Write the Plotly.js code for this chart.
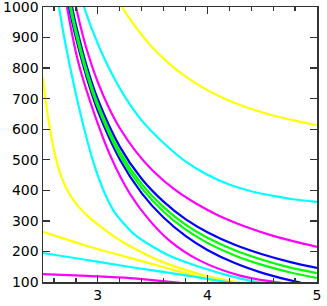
<!DOCTYPE html>
<html>
<head>
<meta charset="utf-8">
<script src="https://cdn.plot.ly/plotly-3.0.1.min.js"></script>
<style>html,body{margin:0;padding:0;background:#fff;}#chart{width:327px;height:306px;}</style>
</head>
<body>
<div id="chart"></div>
<script>
// Curves (x, y pairs)
var yellowR_x = [3.221, 3.3, 3.4, 3.5, 3.6, 3.7, 3.8, 3.9, 4.0, 4.2, 4.4, 4.6, 4.8, 5.0];
var yellowR_y = [1000, 957, 909, 867, 831, 800, 773, 749, 728, 693, 666, 645, 628, 613];

var cyanR_x = [2.874, 2.95, 3.05, 3.15, 3.266, 3.4, 3.6, 3.8, 4.0, 4.2, 4.4, 4.6, 4.8, 5.0];
var cyanR_y = [1000, 924, 839, 767, 696, 629, 555, 495, 451, 419, 397, 382, 370, 362];

var magentaR_x = [2.801, 2.85, 2.9, 3.0, 3.1, 3.2, 3.35, 3.5, 3.7, 3.9, 4.1, 4.35, 4.6, 4.8, 5.0];
var magentaR_y = [1000, 926, 860, 754, 671, 604, 526, 465, 403, 356, 318, 281, 251, 232, 215];

var blueR_x = [2.765, 2.8, 2.9, 3.0, 3.2, 3.4, 3.6, 3.8, 4.0, 4.25, 4.5, 4.75, 5.0];
var blueR_y = [1000, 942, 805, 698, 543, 438, 363, 306, 263, 222, 191, 166, 146];

var greenR_x = [2.755, 2.8, 2.9, 3.0, 3.2, 3.4, 3.6, 3.8, 4.0, 4.25, 4.5, 4.75, 5.0];
var greenR_y = [1000, 926, 790, 683, 527, 421, 345, 288, 245, 204, 173, 148, 129];

var greenL_x = [2.746, 2.8, 2.9, 3.0, 3.2, 3.4, 3.6, 3.8, 4.0, 4.25, 4.5, 4.75, 5.0];
var greenL_y = [1000, 913, 779, 673, 515, 407, 330, 272, 228, 187, 156, 132, 113];

var blueL_x = [2.737, 2.8, 2.9, 3.0, 3.2, 3.4, 3.6, 3.8, 4.0, 4.25, 4.5, 4.75, 4.85];
var blueL_y = [1000, 900, 768, 660, 502, 391, 311, 251, 205, 162, 130, 106, 98];

var magentaL_x = [2.719, 2.819, 2.929, 3.111, 3.294, 3.476, 3.659, 3.932, 4.297, 4.617, 4.7];
var magentaL_y = [1000, 823, 692, 516, 388, 300, 234, 170, 121, 100, 96];

var cyanL_x = [2.646, 2.701, 2.792, 2.883, 2.974, 3.066, 3.157, 3.248, 3.339, 3.476, 3.659, 3.932, 4.206, 4.453, 4.6];
var cyanL_y = [1000, 886, 728, 591, 476, 388, 326, 287, 254, 221, 185, 149, 120, 100, 94];

var yellowL_x = [2.5, 2.518, 2.536, 2.573, 2.609, 2.655, 2.701, 2.746, 2.838, 2.929, 3.020, 3.157, 3.294, 3.595, 3.932, 4.325];
var yellowL_y = [768, 712, 663, 581, 517, 457, 416, 385, 341, 309, 283, 247, 217, 165, 125, 96];

var yellowS_x = [2.5, 2.901, 3.294, 3.595, 3.887, 4.115];
var yellowS_y = [264, 218, 179, 149, 120, 97];

var cyanS_x = [2.5, 2.901, 3.294, 3.595, 3.905, 4.224];
var cyanS_y = [195, 172, 149, 133, 116, 97];

var magentaS_x = [2.5, 2.901, 3.294, 3.476, 3.75];
var magentaS_y = [126, 120, 113, 107, 97];

var yTicks = [100, 200, 300, 400, 500, 600, 700, 800, 900, 1000];
var xTicks = [3, 4, 5];

var YELLOW = '#ffff00', CYAN = '#00ffff', MAGENTA = '#ff00ff', BLUE = '#0000ff', GREEN = '#00ff00';

function tr(x, y, c) {
  return {x: x, y: y, type: 'scatter', mode: 'lines',
    line: {color: c, width: 2.2, shape: 'spline', smoothing: 1},
    hoverinfo: 'none', showlegend: false};
}

var data = [
  tr(yellowR_x, yellowR_y, YELLOW),
  tr(cyanR_x, cyanR_y, CYAN),
  tr(magentaR_x, magentaR_y, MAGENTA),
  tr(yellowL_x, yellowL_y, YELLOW),
  tr(yellowS_x, yellowS_y, YELLOW),
  tr(cyanL_x, cyanL_y, CYAN),
  tr(cyanS_x, cyanS_y, CYAN),
  tr(magentaL_x, magentaL_y, MAGENTA),
  tr(magentaS_x, magentaS_y, MAGENTA),
  tr(blueL_x, blueL_y, BLUE),
  tr(blueR_x, blueR_y, BLUE),
  tr(greenL_x, greenL_y, GREEN),
  tr(greenR_x, greenR_y, GREEN)
];

var axisCommon = {
  showline: true, linecolor: '#333', linewidth: 1.5, mirror: 'ticks',
  ticks: 'inside', ticklen: 7, tickwidth: 1.3, tickcolor: '#333',
  showgrid: false, zeroline: false, ticklabeloverflow: 'allow',
  tickfont: {family: 'DejaVu Sans', size: 14, color: '#000'}
};

var layout = {
  width: 327, height: 306,
  margin: {l: 43, r: 10, t: 7, b: 24, pad: 0},
  paper_bgcolor: '#fff', plot_bgcolor: '#fff',
  xaxis: Object.assign({}, axisCommon, {
    range: [2.5, 5], tickvals: xTicks, ticktext: xTicks.map(String),
    minor: {dtick: 0.2, tick0: 0, ticks: 'inside', ticklen: 4, tickwidth: 1.3, tickcolor: '#333'}
  }),
  yaxis: Object.assign({}, axisCommon, {
    range: [100, 1000], tickvals: yTicks, ticktext: yTicks.map(String)
  })
};

Plotly.newPlot('chart', data, layout, {staticPlot: true, displayModeBar: false});
</script>
</body>
</html>
